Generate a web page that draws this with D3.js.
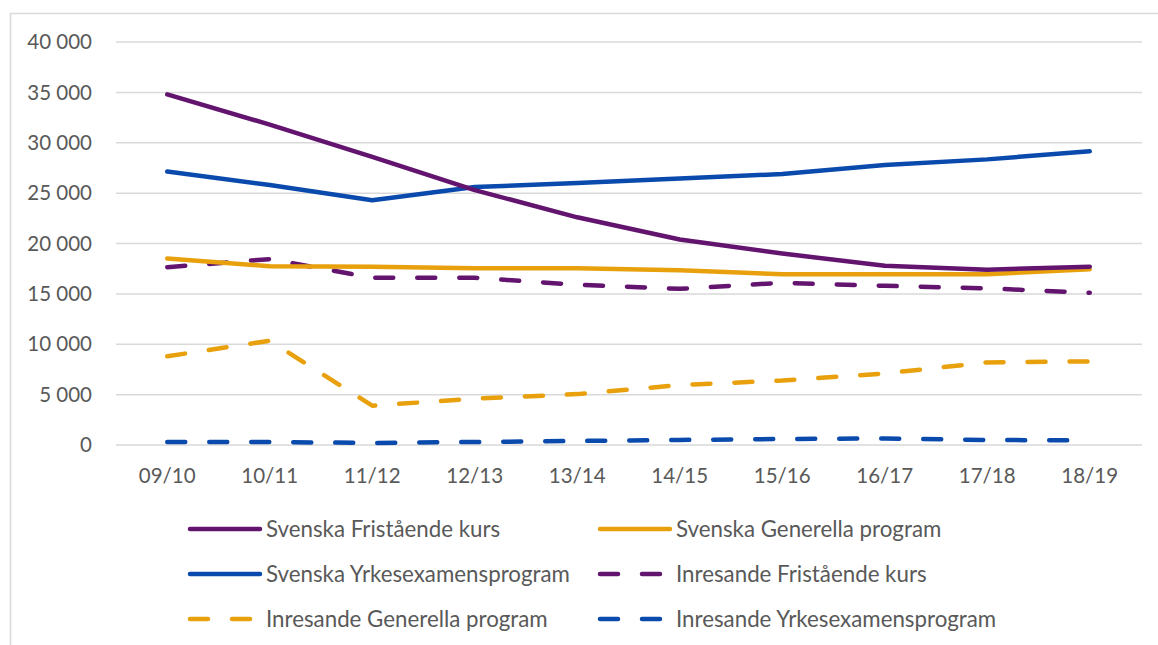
<!DOCTYPE html>
<html>
<head>
<meta charset="utf-8">
<script src="https://cdn.jsdelivr.net/npm/d3@7"></script>
<style>
  body { margin: 0; background: #fff; }
  text { font-family: Lato, "Open Sans", sans-serif; fill: #595959; }
</style>
</head>
<body>
<svg width="1158" height="645"></svg>
<script>
var years = ["09/10", "10/11", "11/12", "12/13", "13/14", "14/15", "15/16", "16/17", "17/18", "18/19"];

var svFristaende = [34800, 31800, 28600, 25300, 22600, 20400, 19000, 17800, 17400, 17700];
var svGenerella  = [18500, 17750, 17700, 17550, 17550, 17350, 16950, 16950, 16950, 17450];
var svYrkes      = [27150, 25800, 24300, 25600, 26000, 26450, 26900, 27800, 28350, 29150];
var inFristaende = [17650, 18450, 16600, 16600, 15900, 15500, 16100, 15800, 15550, 15100];
var inGenerella  = [8800, 10350, 3900, 4600, 5050, 5950, 6400, 7100, 8200, 8300];
var inYrkes      = [300, 300, 200, 300, 400, 500, 600, 650, 500, 450];

var yTicks = [0, 5000, 10000, 15000, 20000, 25000, 30000, 35000, 40000];

var series = [
  { name: "Svenska Fristående kurs", values: svFristaende, color: "#63146f", dashed: false },
  { name: "Svenska Generella program", values: svGenerella, color: "#e8a00c", dashed: false },
  { name: "Svenska Yrkesexamensprogram", values: svYrkes, color: "#0a4aad", dashed: false },
  { name: "Inresande Fristående kurs", values: inFristaende, color: "#63146f", dashed: true },
  { name: "Inresande Generella program", values: inGenerella, color: "#e8a00c", dashed: true },
  { name: "Inresande Yrkesexamensprogram", values: inYrkes, color: "#0a4aad", dashed: true }
];

var svg = d3.select("svg");

// outer frame (only top and left edges visible)
svg.append("path")
    .attr("d", "M10.5,660 L10.5,13.5 L1170,13.5")
    .attr("fill", "none")
    .attr("stroke", "#d9d9d9")
    .attr("stroke-width", 1.5);

var x = d3.scaleBand()
    .domain(years)
    .range([116, 1141]);

var y = d3.scaleLinear()
    .domain([0, 40000])
    .range([445, 42]);

var fmt = function(v) { return d3.format(",")(v).replace(/,/g, " "); };

// gridlines
svg.append("g")
  .selectAll("line")
  .data(yTicks)
  .enter().append("line")
    .attr("x1", 116)
    .attr("x2", 1142)
    .attr("y1", function(d) { return y(d); })
    .attr("y2", function(d) { return y(d); })
    .attr("stroke", "#d9d9d9")
    .attr("stroke-width", 1.5);

// y labels
svg.append("g")
  .selectAll("text")
  .data(yTicks)
  .enter().append("text")
    .attr("x", 92)
    .attr("y", function(d) { return y(d); })
    .attr("dy", "0.35em")
    .attr("text-anchor", "end")
    .style("font-size", "20.5px")
    .text(fmt);

// x labels
svg.append("g")
  .selectAll("text")
  .data(years)
  .enter().append("text")
    .attr("x", function(d) { return x(d) + x.bandwidth() / 2; })
    .attr("y", 476)
    .attr("dy", "0.35em")
    .attr("text-anchor", "middle")
    .style("font-size", "20.5px")
    .text(function(d) { return d; });

var line = d3.line()
    .x(function(d, i) { return x(years[i]) + x.bandwidth() / 2; })
    .y(function(d) { return y(d); });

// draw in reverse so the svenska series sit on top
svg.append("g")
  .selectAll("path")
  .data(series.slice().reverse())
  .enter().append("path")
    .attr("d", function(d) { return line(d.values); })
    .attr("fill", "none")
    .attr("stroke", function(d) { return d.color; })
    .attr("stroke-width", 4.5)
    .attr("stroke-linecap", "round")
    .attr("stroke-linejoin", "round")
    .attr("stroke-dasharray", function(d) { return d.dashed ? "18 24" : null; });

// legend
var legend = svg.append("g")
  .selectAll("g")
  .data(series)
  .enter().append("g")
    .attr("transform", function(d, i) {
      return "translate(" + (i % 2 === 0 ? 188 : 598) + "," + (529 + Math.floor(i / 2) * 45) + ")";
    });

legend.append("line")
    .attr("x1", 2)
    .attr("x2", 72)
    .attr("stroke", function(d) { return d.color; })
    .attr("stroke-width", 4.5)
    .attr("stroke-linecap", "round")
    .attr("stroke-dasharray", function(d) { return d.dashed ? "18 24" : null; });

legend.append("text")
    .attr("x", 78)
    .attr("dy", "0.35em")
    .style("font-size", "22.3px")
    .text(function(d) { return d.name; });
</script>
</body>
</html>
